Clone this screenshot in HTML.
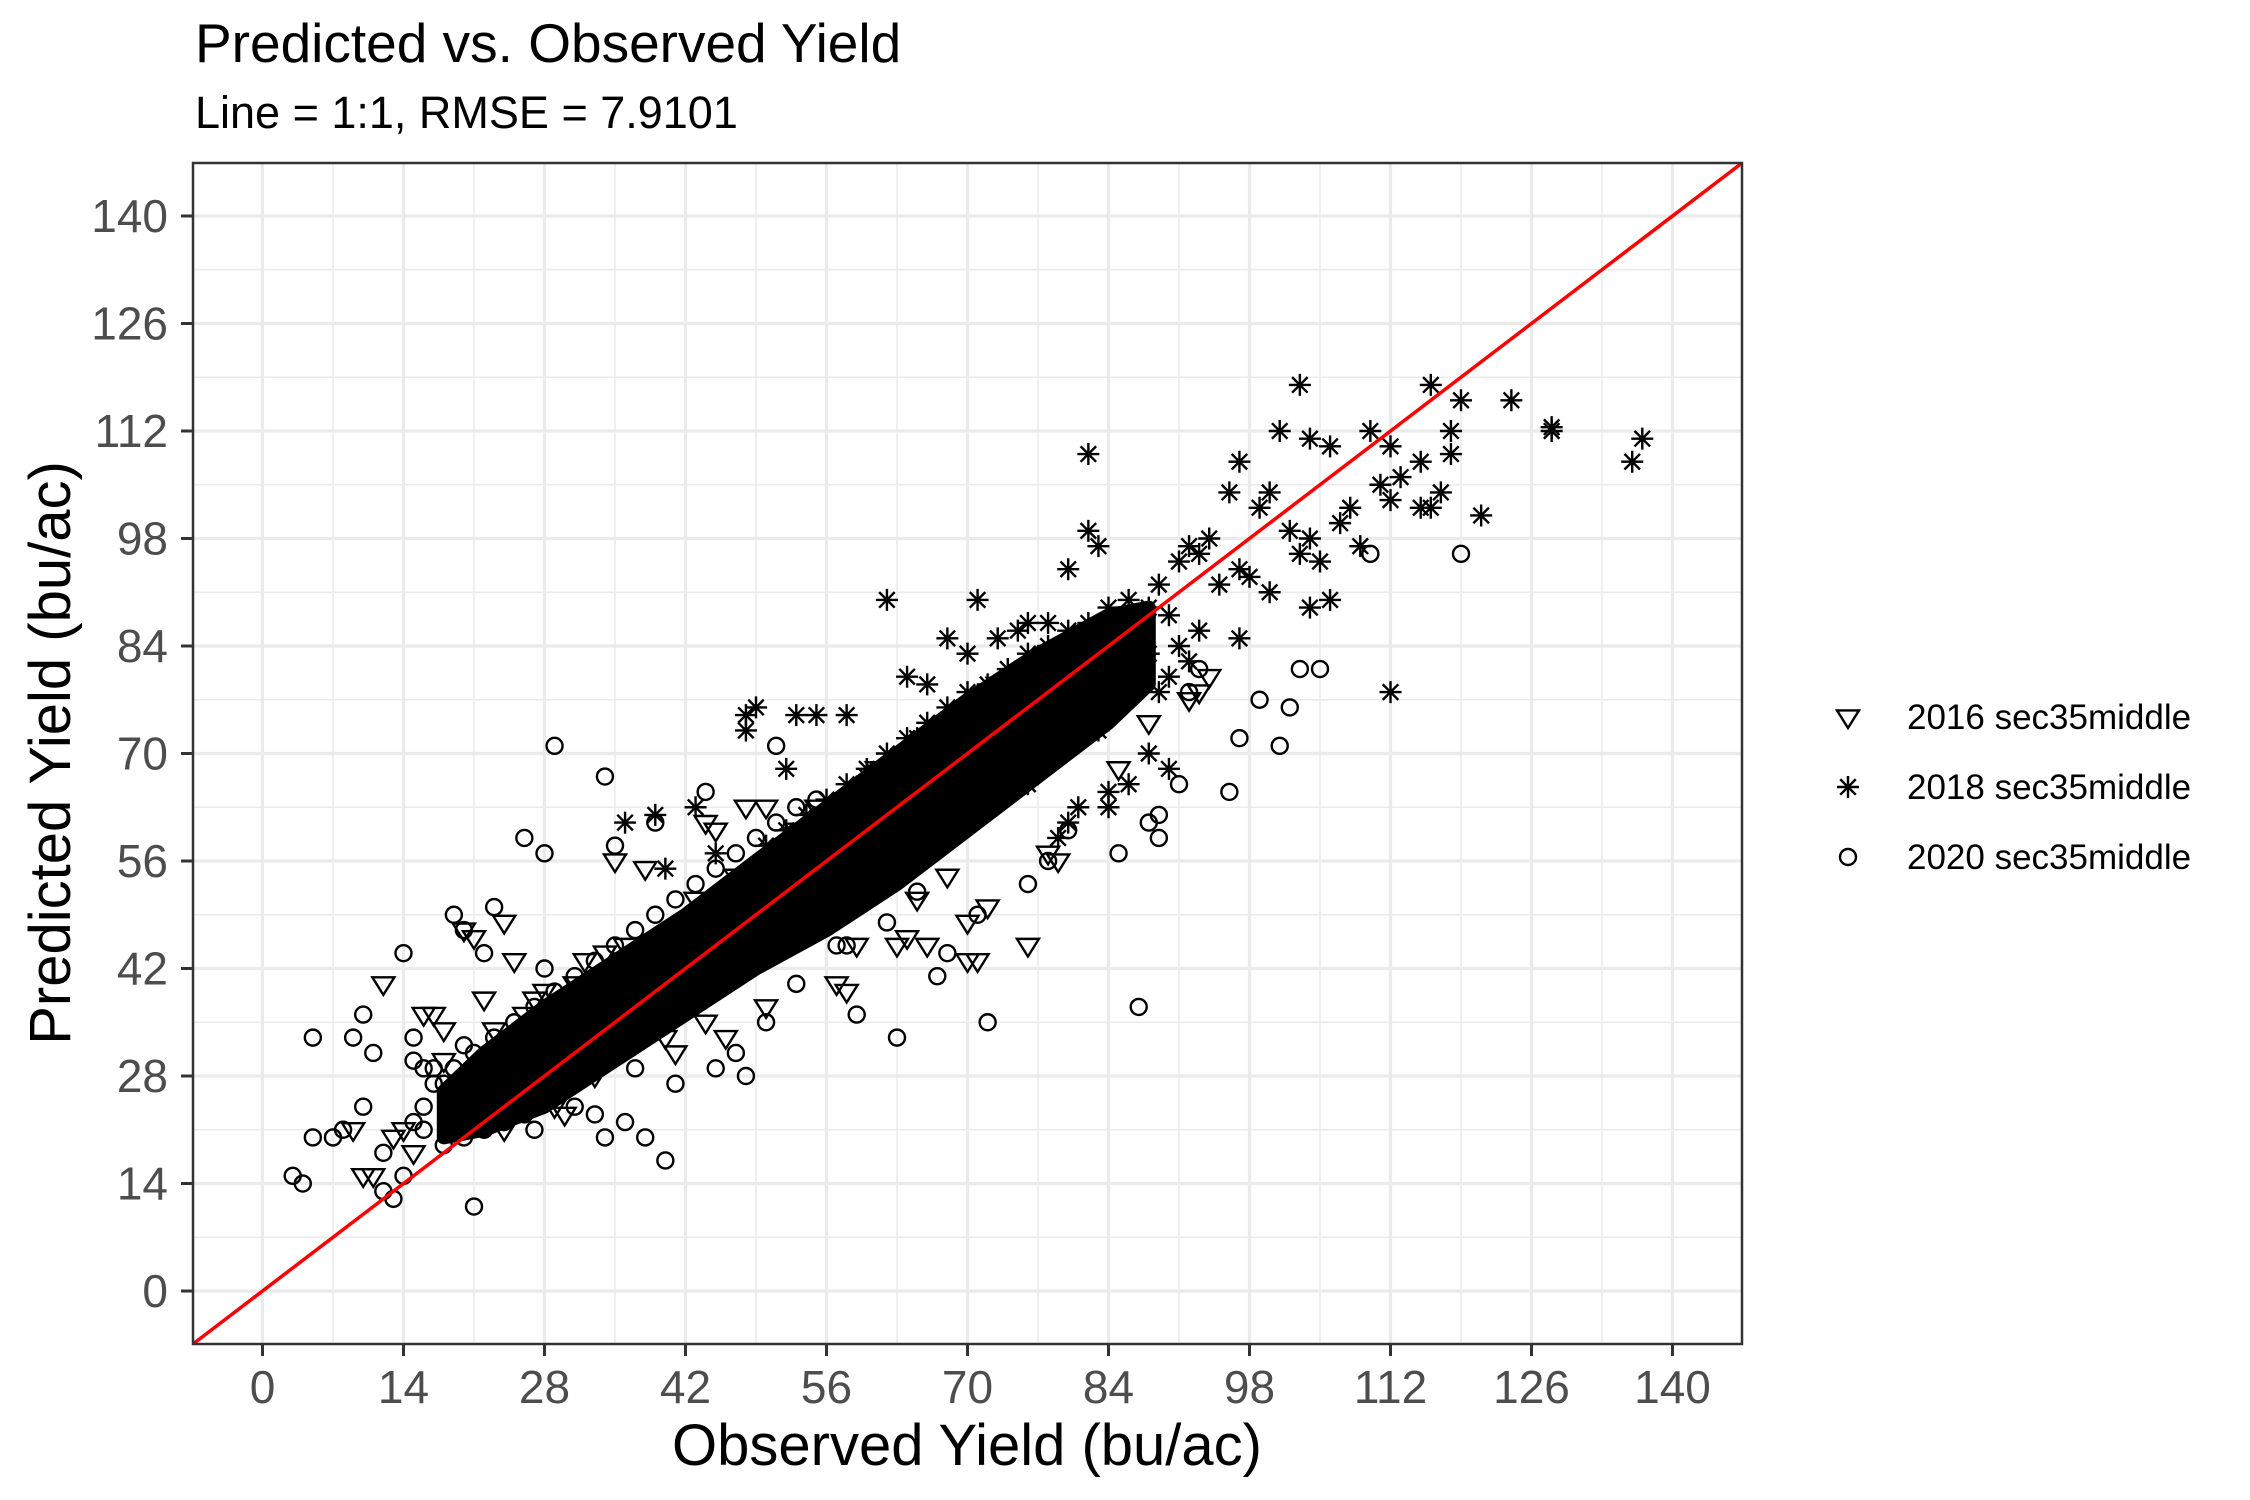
<!DOCTYPE html>
<html><head><meta charset="utf-8"><style>
html,body{margin:0;padding:0;background:#fff}
svg{display:block;font-family:"Liberation Sans",Arial,sans-serif}
</style></head><body>
<svg id="chart" width="2250" height="1500" viewBox="0 0 2250 1500" xmlns="http://www.w3.org/2000/svg">
<text x="195" y="62" font-size="55" fill="#000">Predicted vs. Observed Yield</text>
<text x="195" y="128" font-size="45" fill="#000">Line = 1:1, RMSE = 7.9101</text>
<g id="grid"></g>
<g id="band"></g>
<g id="points"></g>
<line id="oneone" stroke="#ff0000" stroke-width="3.5"></line>
<rect x="193" y="163" width="1549" height="1181" fill="none" stroke="#333" stroke-width="2.5"></rect>
<g id="axes"></g>
<text x="967" y="1465" font-size="58" text-anchor="middle" fill="#000">Observed Yield (bu/ac)</text>
<text transform="translate(70,753) rotate(-90)" font-size="58" text-anchor="middle" fill="#000">Predicted Yield (bu/ac)</text>
<g id="legend"></g>
</svg>
<script>
const xTicks = [0,14,28,42,56,70,84,98,112,126,140];
const yTicks = [0,14,28,42,56,70,84,98,112,126,140];
const seriesNames = ["2016 sec35middle","2018 sec35middle","2020 sec35middle"];
// dense core envelope (observed -> predicted low/high)
const bandX  = [18,22,28,35,42,49,56,63,70,77,84,88];
const bandLo = [20,21,24,30,36,42,47,53,60,67,74,79];
const bandHi = [26,31,37,43,49,56,63,70,77,83,88,89];
// 2016 triangles: observed, predicted
const obs2016 = [9,10,12,11,14,15,17,18,20,21,24,25,28,22,32,35,38,44,45,48,50,52,54,56,57,58,59,63,64,66,68,70,71,72,76,78,79,85,88,92,94,93,29,30,24,40,41,44,46,50,60,65,70,19,16,13,
 26,31,36,43,47,53,55,61,67,73,33,39,45,51,62,69,75,81,18,23,27,34];
const pred2016 = [21,15,40,15,21,18,36,34,47,46,48,43,39,38,43,56,55,61,60,63,63,48,47,48,40,39,45,45,46,45,54,48,43,50,45,57,56,68,74,77,80,78,24,23,21,33,31,35,33,37,52,51,43,22,36,20,
 36,40,45,51,54,60,63,68,73,79,28,35,40,45,55,62,68,74,30,34,38,44];
// 2018 asterisks
const obs2018 = [103,116,119,124,128,128,137,136,101,97,82,104,106,110,112,113,118,118,115,111,112,108,100,99,96,92,94,93,104,103,105,109,106,104,100,97,95,91,89,87,90,97,93,92,88,86,84,82,83,80,78,76,75,73,71,70,68,62,64,66,112,121,116,115,117,49,48,48,53,55,58,39,43,36,81,79,80,84,84,86,88,90,76,74,65,60,52,45,40,107,102,98,
 86,88,84,82,80,78,76,74,72,70,68,66,64,62,60,58,56,54,52,50,85,83,81,79,77,75,73,71,69,67,65,63,61,59,57,55,90,91,89];
const pred2018 = [118,118,116,116,112,112.5,111,108,112,108,109,111,110,112,110,106,112,109,108,105,103,102,104,102,104,97,98,96,98,96,95,97,90,89,91,94,92,95,92,87,88,85,86,82,83,80,82,99,97,94,87,87,86,85,90,83,85,90,80,79,78,101,102,102,104,76,73,75,75,75,75,62,63,61,63,59,61,63,65,66,70,68,66,68,72,67,68,57,55,100,99,93,
 90,89,89,87,86,84,83,81,79,78,76,74,72,70,68,66,64,62,60,58,76,73,72,70,68,66,64,62,60,58,57,55,53,51,49,47,80,84,78];
// 2020 circles
const obs2020 = [3,4,5,5,8,9,10,10,11,12,12,13,14,14,15,15,16,16,19,20,20,21,22,23,24,26,27,28,29,28,34,33,34,35,39,40,41,42,44,45,47,48,50,51,53,55,59,63,62,67,68,71,72,76,78,85,87,88,89,91,96,97,99,101,102,103,105,119,92,89,80,93,110,30,31,36,37,38,58,65,57,44,7,18,25,
 17,19,21,23,25,27,29,31,33,35,37,39,41,43,45,47,49,51,53,18,20,22,24,26,28,30,32,34,36,38,40,42,44,46,48,50,52,54,56,58,60,62,64,66,68,70,72,74,16,15,17];
const pred2020 = [15,14,20,33,21,33,36,24,31,13,18,12,44,15,33,30,29,21,49,47,32,11,44,50,26,59,21,57,71,42,67,23,20,58,61,17,27,38,65,29,31,28,35,71,40,64,36,33,48,41,44,49,35,53,56,57,37,61,59,66,65,72,77,71,76,81,81,96,78,62,60,81,96,37,24,22,29,20,45,52,45,40,20,27,30,
 27,29,31,33,35,37,39,41,43,45,47,49,51,53,55,57,59,61,63,19,20,21,22,23,25,27,29,30,32,34,36,38,39,41,43,45,47,49,50,52,54,55,57,59,61,63,65,67,24,22,29];

const X0=193, X1=1742, Y0=1344, Y1=163, DMIN=-6.9, DMAX=146.9;
const sx = v => X0 + (v-DMIN)/(DMAX-DMIN)*(X1-X0);
const sy = v => Y0 - (v-DMIN)/(DMAX-DMIN)*(Y0-Y1);
const NS="http://www.w3.org/2000/svg";
function mk(tag, attrs, parent){const e=document.createElementNS(NS,tag);for(const k in attrs)e.setAttribute(k,attrs[k]);parent.appendChild(e);return e;}

const grid=document.getElementById('grid');
mk('rect',{x:X0,y:Y1,width:X1-X0,height:Y0-Y1,fill:'#fff'},grid);
for(let i=0;i<xTicks.length;i++){
  const m=xTicks[i]+7;
  if(m<DMAX){const l=mk('line',{x1:sx(m),x2:sx(m),y1:Y1,y2:Y0,stroke:'#ebebeb','stroke-width':1.6},grid);
  
  }
  const L=mk('line',{x1:sx(xTicks[i]),x2:sx(xTicks[i]),y1:Y1,y2:Y0,stroke:'#ebebeb','stroke-width':3.2},grid);
  
  
}
for(let i=0;i<yTicks.length;i++){
  const m=yTicks[i]+7;
  if(m<DMAX){const l=mk('line',{x1:X0,x2:X1,y1:sy(m),y2:sy(m),stroke:'#ebebeb','stroke-width':1.6},grid);
  
  }
  const L=mk('line',{x1:X0,x2:X1,y1:sy(yTicks[i]),y2:sy(yTicks[i]),stroke:'#ebebeb','stroke-width':3.2},grid);
  
  
}

// dense core
const band=document.getElementById('band');
let d='';
for(let i=0;i<bandX.length;i++) d+=(i?'L':'M')+sx(bandX[i]).toFixed(1)+','+sy(bandHi[i]).toFixed(1);
for(let i=bandX.length-1;i>=0;i--) d+='L'+sx(bandX[i]).toFixed(1)+','+sy(bandLo[i]).toFixed(1);
const bp=mk('path',{d:d+'Z',fill:'#000',stroke:'#000','stroke-width':14,'stroke-linejoin':'round'},band);



const pts=document.getElementById('points');
function tri(cx,cy,p){const r=11;return mk('path',{d:`M${cx-r},${cy-r*0.6}L${cx+r},${cy-r*0.6}L${cx},${cy+r}Z`,fill:'none',stroke:'#000','stroke-width':2.4},p);}
function star(cx,cy,p){const r=11,a=r*0.707;return mk('path',{d:`M${cx-r},${cy}L${cx+r},${cy}M${cx},${cy-r}L${cx},${cy+r}M${cx-a},${cy-a}L${cx+a},${cy+a}M${cx-a},${cy+a}L${cx+a},${cy-a}`,fill:'none',stroke:'#000','stroke-width':2.4},p);}
function circ(cx,cy,p){return mk('circle',{cx:cx,cy:cy,r:8,fill:'none',stroke:'#000','stroke-width':2.4},p);}
for(let i=0;i<obs2016.length;i++){const e=tri(sx(obs2016[i]),sy(pred2016[i]),pts);
  
  }
for(let i=0;i<obs2018.length;i++){const e=star(sx(obs2018[i]),sy(pred2018[i]),pts);
  
  }
for(let i=0;i<obs2020.length;i++){const e=circ(sx(obs2020[i]),sy(pred2020[i]),pts);
  
  }

const ln=document.getElementById('oneone');
ln.setAttribute('x1',sx(DMIN));ln.setAttribute('y1',sy(DMIN));
ln.setAttribute('x2',sx(DMAX));ln.setAttribute('y2',sy(DMAX));

const axes=document.getElementById('axes');
for(let i=0;i<xTicks.length;i++){
  const x=sx(xTicks[i]);
  const t=mk('line',{x1:x,x2:x,y1:Y0,y2:Y0+12,stroke:'#333','stroke-width':3},axes);
  
  
  const lb=mk('text',{x:x,y:1403,'font-size':46,'text-anchor':'middle',fill:'#4d4d4d'},axes);
  lb.textContent=xTicks[i];
  
  
}
for(let i=0;i<yTicks.length;i++){
  const y=sy(yTicks[i]);
  const t=mk('line',{x1:X0-12,x2:X0,y1:y,y2:y,stroke:'#333','stroke-width':3},axes);
  
  
  const lb=mk('text',{x:168,y:y+16,'font-size':46,'text-anchor':'end',fill:'#4d4d4d'},axes);
  lb.textContent=yTicks[i];
  
  
}

const leg=document.getElementById('legend');
const rowY=[717,787,857];
const makers=[tri,star,circ];
for(let i=0;i<seriesNames.length;i++){
  const s=makers[i](1848,rowY[i],leg);
  
  
  const t=mk('text',{x:1907,y:rowY[i]+12,'font-size':35,fill:'#000'},leg);
  t.textContent=seriesNames[i];
  
  
}
</script>
</body></html>
